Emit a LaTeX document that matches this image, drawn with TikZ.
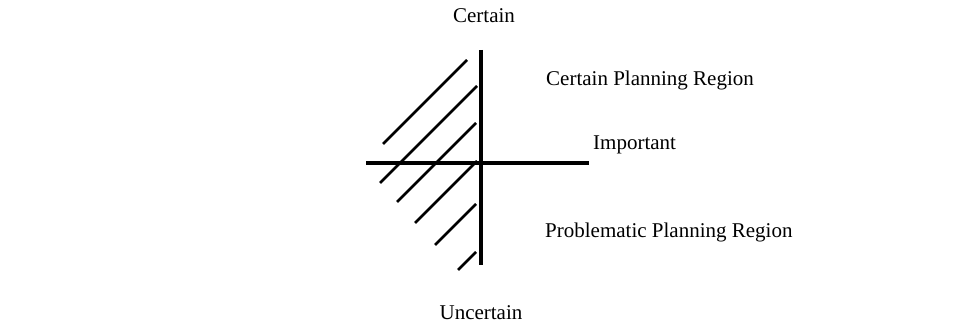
\documentclass[tikz,border=0pt]{standalone}
\usepackage{fontspec}
\setmainfont{Liberation Serif}
\begin{document}
\begin{tikzpicture}[x=1pt,y=-1pt,
  lbl/.style={inner sep=0pt,font=\fontsize{21}{25}\selectfont},
  axis/.style={line width=3.2pt},
  hatch/.style={line width=2.8pt}]
\useasboundingbox[fill=white] (0,0) rectangle (970,326);
% labels
\node[lbl,anchor=base] (certain) at (484,23) {Certain};
\node[lbl,anchor=base] (uncertain) at (481,319) {Uncertain};
\node[lbl,anchor=base west] (cpr) at (546,86) {Certain Planning Region};
\node[lbl,anchor=base west] (imp) at (593,150) {Important};
\node[lbl,anchor=base west] (ppr) at (545,237) {Problematic Planning Region};
% axes
\coordinate (vtop) at (481,50);
\coordinate (vbot) at (481,265);
\coordinate (hl) at (366,163);
\coordinate (hr) at (589,163);
\draw[axis] (vtop) -- (vbot);
\draw[axis] (hl) -- (hr);
% hatching
\coordinate (a1) at (383,144); \coordinate (b1) at (467,60);
\coordinate (a2) at (380,183); \coordinate (b2) at (477,86);
\coordinate (a3) at (397,202); \coordinate (b3) at (476,123);
\coordinate (a4) at (415,223); \coordinate (b4) at (477,161);
\coordinate (a5) at (435,245); \coordinate (b5) at (476,204);
\coordinate (a6) at (458,270); \coordinate (b6) at (476,252);
\foreach \i in {1,...,6} \draw[hatch] (a\i) -- (b\i);
\end{tikzpicture}
\end{document}
